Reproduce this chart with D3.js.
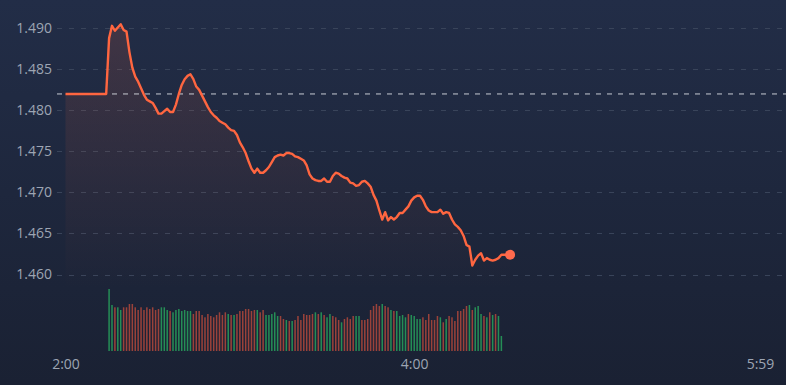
<!DOCTYPE html>
<meta charset="utf-8">
<style>
  body { margin: 0; background: #1b2336; }
  svg { display: block; }
  .axis text {
    fill: #9da5b3;
    font-family: "Open Sans", sans-serif;
    font-size: 14px;
  }
  .grid line {
    stroke: #39445a;
    stroke-dasharray: 5,7;
  }
</style>
<svg width="786" height="385"></svg>
<script src="https://d3js.org/d3.v7.min.js"></script>
<script>
// Price per minute from 2:00 (index 0 = 2:00)
var prices = [
  1.4820, 1.4820, 1.4820, 1.4820, 1.4820, 1.4820, 1.4820, 1.4820, 1.4820, 1.4820,
  1.4820, 1.4820, 1.4820, 1.4820, 1.4820, 1.4888, 1.4903, 1.4897, 1.4901, 1.4905,
  1.4898, 1.4896, 1.4871, 1.4852, 1.4841, 1.4835, 1.4827, 1.4819, 1.4813, 1.4811,
  1.4809, 1.4803, 1.4796, 1.4796, 1.4799, 1.4802, 1.4798, 1.4798, 1.4807, 1.4820,
  1.4831, 1.4838, 1.4842, 1.4844, 1.4838, 1.4829, 1.4825, 1.4818, 1.4811, 1.4804,
  1.4798, 1.4794, 1.4791, 1.4787, 1.4785, 1.4783, 1.4779, 1.4776, 1.4775, 1.4770,
  1.4761, 1.4755, 1.4748, 1.4738, 1.4729, 1.4724, 1.4729, 1.4724, 1.4724, 1.4727,
  1.4731, 1.4737, 1.4743, 1.4745, 1.4746, 1.4745, 1.4748, 1.4748, 1.4747, 1.4744,
  1.4743, 1.4741, 1.4739, 1.4733, 1.4722, 1.4717, 1.4715, 1.4714, 1.4714, 1.4717,
  1.4713, 1.4713, 1.4720, 1.4724, 1.4723, 1.4720, 1.4718, 1.4717, 1.4712, 1.4711,
  1.4708, 1.4709, 1.4713, 1.4714, 1.4711, 1.4707, 1.4697, 1.4690, 1.4678, 1.4667,
  1.4676, 1.4666, 1.4670, 1.4667, 1.4670, 1.4675, 1.4675, 1.4679, 1.4683, 1.4690,
  1.4694, 1.4696, 1.4696, 1.4691, 1.4683, 1.4678, 1.4676, 1.4676, 1.4676, 1.4679,
  1.4674, 1.4676, 1.4675, 1.4667, 1.4661, 1.4658, 1.4654, 1.4647, 1.4636, 1.4634,
  1.4611, 1.4618, 1.4623, 1.4626, 1.4617, 1.4620, 1.4618, 1.4617, 1.4618, 1.4620,
  1.4624, 1.4624, 1.4624, 1.4624
];

// Volume per minute, starting at 2:15
var volStart = 15;
var volumes = [
  620, 460, 437, 437, 410, 437, 437, 470, 470, 437,
  410, 437, 410, 437, 420, 437, 410, 420, 437, 437,
  410, 400, 387, 410, 420, 400, 410, 400, 400, 370,
  400, 400, 360, 337, 370, 350, 337, 360, 387, 360,
  387, 370, 360, 360, 370, 400, 400, 420, 420, 400,
  410, 410, 387, 410, 360, 360, 370, 387, 350, 350,
  320, 310, 300, 300, 310, 350, 310, 370, 360, 360,
  370, 387, 370, 387, 360, 337, 370, 350, 337, 310,
  287, 320, 337, 320, 350, 350, 350, 310, 310, 320,
  410, 450, 470, 450, 470, 450, 437, 410, 400, 400,
  350, 360, 337, 370, 360, 350, 320, 320, 337, 310,
  370, 310, 310, 350, 337, 287, 320, 350, 337, 300,
  400, 400, 420, 450, 460, 410, 437, 450, 370, 350,
  337, 387, 360, 370, 350, 150
];
// u = up bar (green), d = down bar (red)
var volDir = [
  "u","u","d","u","u","d","d","d","d","d",
  "d","d","d","d","d","d","d","d","u","u",
  "u","d","u","u","u","u","u","u","u","d",
  "d","d","d","d","d","d","d","d","d","d",
  "d","u","d","u","d","d","d","d","d","d",
  "d","u","d","d","u","u","u","u","u","d",
  "d","u","d","u","d","d","d","d","d","d",
  "d","u","d","u","d","u","u","d","d","d",
  "u","d","d","d","d","u","u","d","d","d",
  "d","d","d","d","u","d","d","u","d","u",
  "u","u","u","d","u","u","u","u","d","d",
  "d","d","d","d","u","d","u","d","d","d",
  "d","d","d","d","u","d","u","u","u","d",
  "u","d","u","d","u","u"
];

var refPrice = 1.482;
var yTicks = [1.460, 1.465, 1.470, 1.475, 1.480, 1.485, 1.490];
var xTicks = [0, 120, 239];
var xLabels = ["2:00", "4:00", "5:59"];

var svg = d3.select("svg"),
    width = +svg.attr("width"),
    height = +svg.attr("height");

// Background
var defs = svg.append("defs");
var bg = defs.append("linearGradient")
    .attr("id", "bg").attr("x1", 0).attr("y1", 0).attr("x2", 0).attr("y2", 1);
bg.append("stop").attr("offset", "0%").attr("stop-color", "#222d47");
bg.append("stop").attr("offset", "100%").attr("stop-color", "#1a2133");
svg.append("rect").attr("width", width).attr("height", height).attr("fill", "url(#bg)");

var areaGrad = defs.append("linearGradient")
    .attr("id", "areaGrad")
    .attr("gradientUnits", "userSpaceOnUse")
    .attr("x1", 0).attr("x2", 0)
    .attr("y1", 25).attr("y2", 290);
areaGrad.append("stop").attr("offset", "0%").attr("stop-color", "#ff6a3d").attr("stop-opacity", 0.14);
areaGrad.append("stop").attr("offset", "100%").attr("stop-color", "#ff6a3d").attr("stop-opacity", 0);

// Scales
var x = d3.scaleLinear().domain([0, 239]).range([65.5, 760]);
var y = d3.scaleLinear().domain([1.460, 1.490]).range([274.5, 28.3]);
var yVol = d3.scaleLinear().domain([0, 620]).range([351, 289]);

// Grid
svg.append("g")
    .attr("class", "grid")
    .selectAll("line")
    .data(yTicks)
    .enter().append("line")
    .attr("x1", 57).attr("x2", width)
    .attr("y1", function(d) { return Math.round(y(d)) + 0.5; })
    .attr("y2", function(d) { return Math.round(y(d)) + 0.5; });

// Y axis labels
var yAxis = d3.axisLeft(y)
    .tickValues(yTicks)
    .tickFormat(d3.format(".3f"))
    .tickSize(0)
    .tickPadding(0);
svg.append("g")
    .attr("class", "axis")
    .attr("transform", "translate(52,0)")
    .call(yAxis)
    .call(function(g) { g.select(".domain").remove(); });

// X axis labels
var xAxis = d3.axisBottom(x)
    .tickValues(xTicks)
    .tickFormat(function(d, i) { return xLabels[i]; })
    .tickSize(0)
    .tickPadding(0);
svg.append("g")
    .attr("class", "axis")
    .attr("transform", "translate(0,359)")
    .call(xAxis)
    .call(function(g) { g.select(".domain").remove(); });

// Area + line
var area = d3.area()
    .x(function(d, i) { return x(i); })
    .y0(290)
    .y1(function(d) { return y(d); });
svg.append("path")
    .datum(prices)
    .attr("fill", "url(#areaGrad)")
    .attr("d", area);

// Reference line (previous close)
svg.append("line")
    .attr("x1", 57).attr("x2", width)
    .attr("y1", y(refPrice)).attr("y2", y(refPrice))
    .attr("stroke", "#c9ccd3")
    .attr("stroke-width", 1)
    .attr("stroke-dasharray", "5,6");

var line = d3.line()
    .x(function(d, i) { return x(i); })
    .y(function(d) { return y(d); });
svg.append("path")
    .datum(prices)
    .attr("fill", "none")
    .attr("stroke", "#ff6640")
    .attr("stroke-width", 2.4)
    .attr("stroke-linejoin", "round")
    .attr("d", line);

// Last price dot
var last = prices.length - 1;
svg.append("circle")
    .attr("cx", x(last))
    .attr("cy", y(prices[last]))
    .attr("r", 5)
    .attr("fill", "#ff6a4d");

// Volume bars
svg.append("g")
    .selectAll("rect")
    .data(volumes)
    .enter().append("rect")
    .attr("x", function(d, i) { return x(i + volStart) - 0.75; })
    .attr("width", 1.5)
    .attr("y", function(d) { return yVol(d); })
    .attr("height", function(d) { return 351 - yVol(d); })
    .attr("fill", function(d, i) { return volDir[i] === "u" ? "#279a5a" : "#a8463b"; })
    .attr("opacity", 0.9);
</script>
